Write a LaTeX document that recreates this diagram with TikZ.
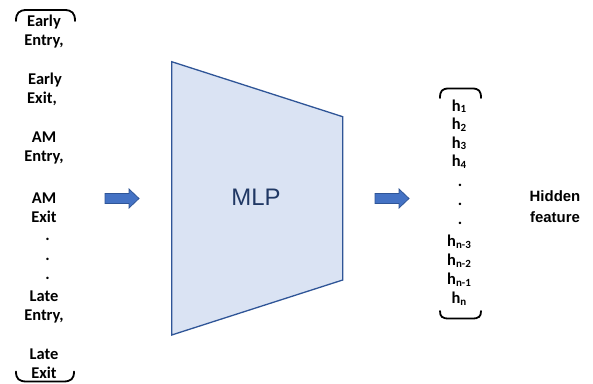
\documentclass[tikz,border=0pt]{standalone}
\usepackage{fontspec}
\newfontfamily\labelfont{Carlito}
\newfontfamily\arialfont{Liberation Sans}

\definecolor{boxfill}{HTML}{DAE3F3}
\definecolor{boxedge}{HTML}{2F5597}
\definecolor{arrowfill}{HTML}{4472C4}
\definecolor{mlptext}{HTML}{203864}

% feature h with a lowered, smaller index
\newcommand\hsub[1]{h\raisebox{-1.6bp}{\fontsize{11}{11}\selectfont #1}}

\tikzset{
  item/.style={font=\labelfont\bfseries\fontsize{16.5}{19}\selectfont,
               anchor=base, inner sep=0pt},
  hitem/.style={font=\labelfont\bfseries\fontsize{16.5}{19}\selectfont,
               anchor=base, inner sep=0pt},
  brk/.style={draw=black, line width=1.8bp, line cap=round},
  blockarrow/.style={fill=arrowfill, draw=boxedge, line width=0.8bp, line join=miter},
  mlpbox/.style={fill=boxfill, draw=boxedge, line width=1.3bp, line join=miter},
}

\begin{document}
\begin{tikzpicture}[x=1bp, y=-1bp]
\useasboundingbox (0,0) rectangle (593,383);

% ---- input list ----
\node[item] (in1)  at (44,26.7)  {Early};
\node[item] (in2)  at (44,45.5)  {Entry,};
\node[item] (in3)  at (45,84.5)  {Early};
\node[item] (in4)  at (42,103.5) {Exit,};
\node[item] (in5)  at (44,142.5) {AM};
\node[item] (in6)  at (44,161.5) {Entry,};
\node[item] (in7)  at (44,203.5) {AM};
\node[item] (in8)  at (44,222.5) {Exit};
\node[item] (in9)  at (47.5,240.5) {.};
\node[item] (in10) at (47.5,260)   {.};
\node[item] (in11) at (47.5,279)   {.};
\node[item] (in12) at (44,301.5) {Late};
\node[item] (in13) at (44,320.5) {Entry,};
\node[item] (in14) at (44,359.5) {Late};
\node[item] (in15) at (44,378.5) {Exit};

% brackets round the input list
\draw[brk] (16,21) .. controls (16,13) and (19,10) .. (27,10) -- (64,10)
           .. controls (72,10) and (75,13) .. (75,21);
\draw[brk] (16,371.5) .. controls (16,379) and (19,381.5) .. (27,381.5) -- (63,381.5)
           .. controls (71,381.5) and (74,379) .. (74,371.5);

% ---- arrows ----
\draw[blockarrow] (105,193.5) -- (129,193.5) -- (129,189) -- (139,198.5)
                  -- (129,208) -- (129,203.5) -- (105,203.5) -- cycle;
\draw[blockarrow] (375,193.5) -- (399,193.5) -- (399,189) -- (409,198.5)
                  -- (399,208) -- (399,203.5) -- (375,203.5) -- cycle;

% ---- MLP block ----
\draw[mlpbox] (171.7,61.7) -- (342.7,116.7) -- (342.7,280) -- (171.7,335) -- cycle;
\node[font=\arialfont\fontsize{24}{24}\selectfont, text=mlptext, inner sep=0pt]
     (mlp) at (256,197) {MLP};

% ---- hidden feature vector ----
\node[hitem] (h1)  at (459,111)   {\hsub{1}};
\node[hitem] (h2)  at (459,129.5) {\hsub{2}};
\node[hitem] (h3)  at (459,148)   {\hsub{3}};
\node[hitem] (h4)  at (459,166.5) {\hsub{4}};
\node[hitem] (hd1) at (460,186)   {.};
\node[hitem] (hd2) at (460,205)   {.};
\node[hitem] (hd3) at (460,224)   {.};
\node[hitem] (h5)  at (459,246.5) {\hsub{n-3}};
\node[hitem] (h6)  at (459,265.5) {\hsub{n-2}};
\node[hitem] (h7)  at (459,284.5) {\hsub{n-1}};
\node[hitem] (h8)  at (459,303.5) {\hsub{n}};

\draw[brk] (440,98) .. controls (440,91) and (442,88.5) .. (449,88.5) -- (472,88.5)
           .. controls (479,88.5) and (481,91) .. (481,98);
\draw[brk] (440,311) .. controls (440,316.5) and (442,318.5) .. (449,318.5) -- (472,318.5)
           .. controls (479,318.5) and (481,316.5) .. (481,311);

\node[font=\arialfont\bfseries\fontsize{15}{15}\selectfont, anchor=base, inner sep=0pt]
     (hid1) at (555,201.5) {Hidden};
\node[font=\arialfont\bfseries\fontsize{15}{15}\selectfont, anchor=base, inner sep=0pt]
     (hid2) at (555,222.5) {feature};
\end{tikzpicture}
\end{document}
